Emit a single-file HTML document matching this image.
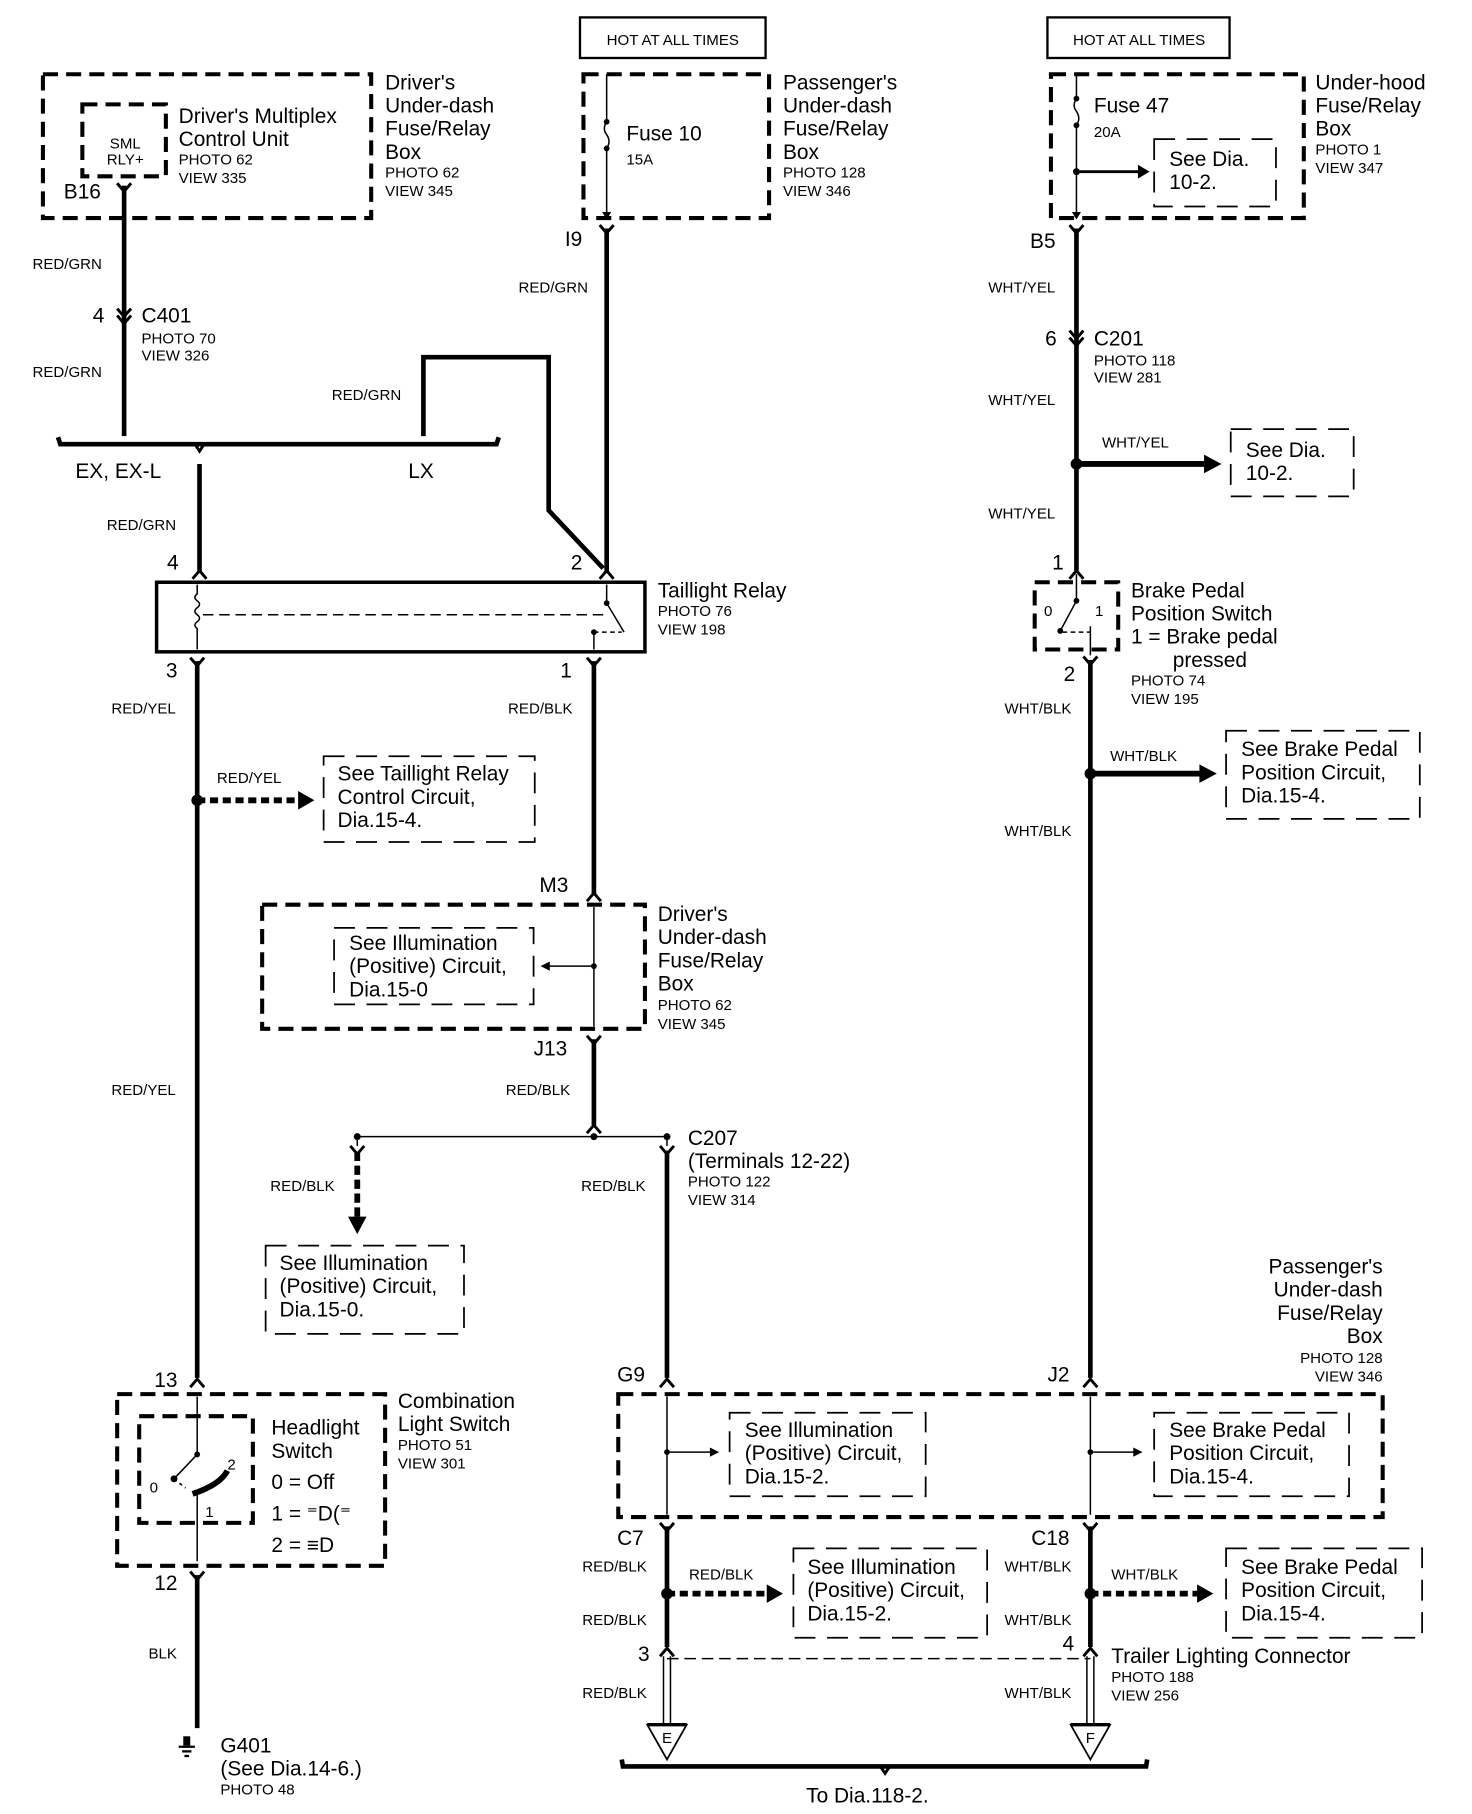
<!DOCTYPE html>
<html><head><meta charset="utf-8"><style>
html,body{margin:0;padding:0;background:#fff}
svg{display:block}
text{font-family:"Liberation Sans",Arial,sans-serif;fill:#000}
.b{font-size:18px}.s{font-size:13px}.w{font-size:13px}
.wire{stroke:#000;stroke-width:4;fill:none}
.thin{stroke:#000;stroke-width:1.3;fill:none}
.db{stroke:#000;stroke-width:3.5;fill:none;stroke-dasharray:13 7}
.dt{stroke:#000;stroke-width:1.5;fill:none;stroke-dasharray:18 10}
.fk{stroke:#000;stroke-width:2.5;fill:none}
</style></head><body>
<svg width="1472" height="1814" viewBox="0 0 1269 1564" preserveAspectRatio="none" xmlns="http://www.w3.org/2000/svg">
<defs>
<marker id="ah" markerWidth="6" markerHeight="6" refX="4" refY="3" orient="auto" markerUnits="strokeWidth"><path d="M0,0 L5,3 L0,6z" fill="#000"/></marker>
<marker id="ah2" markerWidth="10" markerHeight="10" refX="8" refY="5" orient="auto" markerUnits="userSpaceOnUse"><path d="M0,0 L9,5 L0,10z" fill="#000"/></marker>
</defs>
<!-- HOT boxes -->
<rect x="500" y="15" width="160" height="35" fill="none" stroke="#000" stroke-width="2"/>
<text x="580" y="39" class="s" text-anchor="middle" font-size="14">HOT AT ALL TIMES</text>
<rect x="903" y="15" width="157" height="35" fill="none" stroke="#000" stroke-width="2"/>
<text x="982" y="39" class="s" text-anchor="middle" font-size="14">HOT AT ALL TIMES</text>

<!-- Driver's box -->
<rect x="37" y="64" width="283" height="124" class="db"/>
<rect x="71" y="90" width="72" height="62" class="db"/>
<text x="108" y="128" class="s" text-anchor="middle">SML</text>
<text x="108" y="142" class="s" text-anchor="middle">RLY+</text>
<text x="154" y="106" class="b">Driver's Multiplex</text>
<text x="154" y="126" class="b">Control Unit</text>
<text x="154" y="142" class="s">PHOTO 62</text>
<text x="154" y="158" class="s">VIEW 335</text>
<text x="332" y="77" class="b">Driver's</text>
<text x="332" y="97" class="b">Under-dash</text>
<text x="332" y="117" class="b">Fuse/Relay</text>
<text x="332" y="137" class="b">Box</text>
<text x="332" y="153" class="s">PHOTO 62</text>
<text x="332" y="169" class="s">VIEW 345</text>
<text x="55" y="171" class="b">B16</text>
<path class="fk" d="M101,158 L107,165 L113,158"/>
<line x1="107" y1="160" x2="107" y2="376" class="wire"/>
<text x="28" y="232" class="w">RED/GRN</text>
<path class="fk" d="M101,266 L107,273 L113,266 M101,272 L107,279 L113,272"/>
<text x="80" y="278" class="b">4</text>
<text x="122" y="278" class="b">C401</text>
<text x="122" y="296" class="s">PHOTO 70</text>
<text x="122" y="311" class="s">VIEW 326</text>
<text x="28" y="325" class="w">RED/GRN</text>
<!-- bracket -->
<path class="wire" d="M50,377 L52,383 L428,383 L430,377"/>
<path class="fk" d="M168,383 L172,389 L176,383"/>
<text x="65" y="412" class="b">EX, EX-L</text>
<text x="352" y="412" class="b">LX</text>
<path class="wire" d="M365,376 L365,308 L473,308 L473,440 L520,490"/>
<text x="286" y="345" class="w">RED/GRN</text>

<!-- Fuse 10 box -->
<rect x="503" y="64" width="160" height="124" class="db"/>
<path class="thin" d="M523,64 L523,105 M523,128 L523,188" marker-end="url(#ah)"/>
<path class="thin" d="M523,105 q-4,6 0,11 q4,6 0,12"/>
<circle cx="523" cy="105" r="2.5"/><circle cx="523" cy="128" r="2.5"/>
<text x="540" y="121" class="b">Fuse 10</text>
<text x="540" y="142" class="s">15A</text>
<text x="675" y="77" class="b">Passenger's</text>
<text x="675" y="97" class="b">Under-dash</text>
<text x="675" y="117" class="b">Fuse/Relay</text>
<text x="675" y="137" class="b">Box</text>
<text x="675" y="153" class="s">PHOTO 128</text>
<text x="675" y="169" class="s">VIEW 346</text>
<text x="487" y="212" class="b">I9</text>
<path class="fk" d="M517,194 L523,201 L529,194"/>
<line x1="523" y1="197" x2="523" y2="492" class="wire"/>
<text x="447" y="252" class="w">RED/GRN</text>

<!-- Under-hood box -->
<rect x="906" y="64" width="218" height="124" class="db"/>
<path class="thin" d="M928,64 L928,85 M928,108 L928,188" marker-end="url(#ah)"/>
<path class="thin" d="M928,85 q-4,6 0,11 q4,6 0,12"/>
<circle cx="928" cy="85" r="2.5"/><circle cx="928" cy="108" r="2.5"/>
<text x="943" y="97" class="b">Fuse 47</text>
<text x="943" y="118" class="s">20A</text>
<rect x="995" y="120" width="105" height="58" class="dt"/>
<text x="1008" y="143" class="b">See Dia.</text>
<text x="1008" y="163" class="b">10-2.</text>
<circle cx="928" cy="148" r="3"/>
<line x1="928" y1="148" x2="983" y2="148" stroke="#000" stroke-width="2.5"/>
<path d="M981,142 L991,148 L981,154z"/>
<text x="1134" y="77" class="b">Under-hood</text>
<text x="1134" y="97" class="b">Fuse/Relay</text>
<text x="1134" y="117" class="b">Box</text>
<text x="1134" y="133" class="s">PHOTO 1</text>
<text x="1134" y="149" class="s">VIEW 347</text>
<text x="888" y="214" class="b">B5</text>
<path class="fk" d="M922,194 L928,201 L934,194"/>
<line x1="928" y1="197" x2="928" y2="492" class="wire"/>
<text x="852" y="252" class="w">WHT/YEL</text>
<path class="fk" d="M922,285 L928,292 L934,285 M922,291 L928,298 L934,291"/>
<text x="901" y="298" class="b">6</text>
<text x="943" y="298" class="b">C201</text>
<text x="943" y="315" class="s">PHOTO 118</text>
<text x="943" y="330" class="s">VIEW 281</text>
<text x="852" y="349" class="w">WHT/YEL</text>
<circle cx="928" cy="400" r="5"/>
<line x1="928" y1="400" x2="1040" y2="400" stroke="#000" stroke-width="5"/>
<path d="M1038,392 L1053,400 L1038,408z"/>
<text x="950" y="386" class="w">WHT/YEL</text>
<rect x="1061" y="370" width="106" height="58" class="dt"/>
<text x="1074" y="394" class="b">See Dia.</text>
<text x="1074" y="414" class="b">10-2.</text>
<text x="852" y="447" class="w">WHT/YEL</text>
<text x="907" y="491" class="b">1</text>
<path class="fk" d="M922,499 L928,492 L934,499"/>

<!-- Brake switch -->
<rect x="892" y="502" width="72" height="58" class="db"/>
<line x1="928" y1="495" x2="928" y2="518" class="thin"/>
<circle cx="928" cy="518" r="2.5"/>
<line x1="928" y1="518" x2="914" y2="544" class="thin"/>
<circle cx="914" cy="544" r="2.5"/>
<path d="M916,545 L940,545" class="thin" stroke-dasharray="4 3"/>
<line x1="940" y1="540" x2="940" y2="565" class="thin"/>
<text x="900" y="531" class="s">0</text>
<text x="944" y="531" class="s">1</text>
<text x="975" y="515" class="b">Brake Pedal</text>
<text x="975" y="535" class="b">Position Switch</text>
<text x="975" y="555" class="b">1 =  Brake pedal</text>
<text x="1011" y="575" class="b">pressed</text>
<text x="975" y="591" class="s">PHOTO 74</text>
<text x="975" y="607" class="s">VIEW 195</text>
<text x="917" y="587" class="b">2</text>
<path class="fk" d="M934,566 L940,573 L946,566"/>
<line x1="940" y1="569" x2="940" y2="1188" class="wire"/>
<text x="866" y="615" class="w">WHT/BLK</text>
<circle cx="940" cy="667" r="5"/>
<line x1="940" y1="667" x2="1036" y2="667" stroke="#000" stroke-width="5"/>
<path d="M1034,659 L1049,667 L1034,675z"/>
<text x="957" y="656" class="w">WHT/BLK</text>
<rect x="1057" y="630" width="167" height="76" class="dt"/>
<text x="1070" y="652" class="b">See Brake Pedal</text>
<text x="1070" y="672" class="b">Position  Circuit,</text>
<text x="1070" y="692" class="b">Dia.15-4.</text>
<text x="866" y="721" class="w">WHT/BLK</text>

<!-- Taillight relay -->
<text x="144" y="491" class="b">4</text>
<text x="92" y="457" class="w">RED/GRN</text>
<line x1="172" y1="400" x2="172" y2="492" class="wire"/>
<path class="fk" d="M166,499 L172,492 L178,499"/>
<text x="492" y="491" class="b">2</text>
<path class="fk" d="M517,499 L523,492 L529,499"/>
<rect x="135" y="502" width="421" height="60" fill="none" stroke="#000" stroke-width="3"/>
<path class="thin" d="M170,504 L170,512 q-4,3 0,6 q4,3 0,6 q-4,3 0,6 q4,3 0,6 q-4,3 0,6 L170,560"/>
<line x1="175" y1="530" x2="520" y2="530" class="thin" stroke-dasharray="9 5"/>
<line x1="523" y1="504" x2="523" y2="520" class="thin"/>
<circle cx="523" cy="520" r="2.5"/>
<line x1="523" y1="520" x2="538" y2="545" class="thin"/>
<path d="M512,545 L536,545" class="thin" stroke-dasharray="4 3"/>
<circle cx="512" cy="545" r="2.5"/>
<line x1="512" y1="545" x2="512" y2="560" class="thin"/>
<text x="567" y="515" class="b">Taillight Relay</text>
<text x="567" y="531" class="s">PHOTO 76</text>
<text x="567" y="547" class="s">VIEW 198</text>
<text x="143" y="584" class="b">3</text>
<text x="483" y="584" class="b">1</text>
<path class="fk" d="M164,567 L170,574 L176,567"/>
<path class="fk" d="M506,567 L512,574 L518,567"/>
<line x1="170" y1="570" x2="170" y2="1188" class="wire"/>
<line x1="512" y1="570" x2="512" y2="772" class="wire"/>
<text x="96" y="615" class="w">RED/YEL</text>
<text x="438" y="615" class="w">RED/BLK</text>
<circle cx="170" cy="690" r="5"/>
<line x1="170" y1="690" x2="258" y2="690" stroke="#000" stroke-width="5" stroke-dasharray="7 4"/>
<path d="M257,682 L271,690 L257,698z"/>
<text x="187" y="675" class="w">RED/YEL</text>
<rect x="279" y="652" width="182" height="74" class="dt"/>
<text x="291" y="673" class="b">See Taillight Relay</text>
<text x="291" y="693" class="b">Control Circuit,</text>
<text x="291" y="713" class="b">Dia.15-4.</text>

<!-- Driver's under-dash M3/J13 -->
<text x="465" y="769" class="b">M3</text>
<path class="fk" d="M506,777 L512,770 L518,777"/>
<rect x="226" y="780" width="330" height="107" class="db"/>
<line x1="512" y1="782" x2="512" y2="885" class="thin"/>
<circle cx="512" cy="833" r="2.5"/>
<line x1="512" y1="833" x2="473" y2="833" class="thin"/>
<path d="M474,829 L466,833 L474,837z"/>
<rect x="288" y="800" width="172" height="66" class="dt"/>
<text x="301" y="819" class="b">See Illumination</text>
<text x="301" y="839" class="b">(Positive) Circuit,</text>
<text x="301" y="859" class="b">Dia.15-0</text>
<text x="567" y="794" class="b">Driver's</text>
<text x="567" y="814" class="b">Under-dash</text>
<text x="567" y="834" class="b">Fuse/Relay</text>
<text x="567" y="854" class="b">Box</text>
<text x="567" y="871" class="s">PHOTO 62</text>
<text x="567" y="887" class="s">VIEW 345</text>
<text x="460" y="910" class="b">J13</text>
<path class="fk" d="M506,893 L512,900 L518,893"/>
<line x1="512" y1="896" x2="512" y2="970" class="wire"/>
<path class="fk" d="M506,977 L512,970 L518,977"/>
<text x="96" y="944" class="w">RED/YEL</text>
<text x="436" y="944" class="w">RED/BLK</text>
<line x1="308" y1="980" x2="575" y2="980" class="thin"/>
<circle cx="308" cy="980" r="3"/><circle cx="512" cy="980" r="3"/><circle cx="575" cy="980" r="3"/>
<line x1="308" y1="980" x2="308" y2="988" class="thin"/>
<line x1="575" y1="980" x2="575" y2="988" class="thin"/>
<path class="fk" d="M302,988 L308,995 L314,988"/>
<path class="fk" d="M569,988 L575,995 L581,988"/>
<line x1="308" y1="993" x2="308" y2="1050" stroke="#000" stroke-width="5" stroke-dasharray="8 4"/>
<path d="M300,1049 L308,1064 L316,1049z"/>
<text x="233" y="1027" class="w">RED/BLK</text>
<rect x="229" y="1074" width="171" height="76" class="dt"/>
<text x="241" y="1095" class="b">See Illumination</text>
<text x="241" y="1115" class="b">(Positive) Circuit,</text>
<text x="241" y="1135" class="b">Dia.15-0.</text>
<text x="593" y="987" class="b">C207</text>
<text x="593" y="1007" class="b">(Terminals 12-22)</text>
<text x="593" y="1023" class="s">PHOTO 122</text>
<text x="593" y="1039" class="s">VIEW 314</text>
<line x1="575" y1="992" x2="575" y2="1188" class="wire"/>
<text x="501" y="1027" class="w">RED/BLK</text>

<!-- Passenger's big box -->
<text x="1192" y="1098" class="b" text-anchor="end">Passenger's</text>
<text x="1192" y="1118" class="b" text-anchor="end">Under-dash</text>
<text x="1192" y="1138" class="b" text-anchor="end">Fuse/Relay</text>
<text x="1192" y="1158" class="b" text-anchor="end">Box</text>
<text x="1192" y="1175" class="s" text-anchor="end">PHOTO 128</text>
<text x="1192" y="1191" class="s" text-anchor="end">VIEW 346</text>
<text x="532" y="1191" class="b">G9</text>
<text x="903" y="1191" class="b">J2</text>
<path class="fk" d="M569,1196 L575,1189 L581,1196"/>
<path class="fk" d="M934,1196 L940,1189 L946,1196"/>
<rect x="533" y="1202" width="659" height="106" class="db"/>
<line x1="575" y1="1204" x2="575" y2="1306" class="thin"/>
<line x1="940" y1="1204" x2="940" y2="1306" class="thin"/>
<circle cx="575" cy="1252" r="2.5"/><circle cx="940" cy="1252" r="2.5"/>
<line x1="575" y1="1252" x2="613" y2="1252" class="thin"/>
<path d="M612,1248 L620,1252 L612,1256z"/>
<line x1="940" y1="1252" x2="978" y2="1252" class="thin"/>
<path d="M977,1248 L985,1252 L977,1256z"/>
<rect x="629" y="1218" width="169" height="72" class="dt"/>
<text x="642" y="1239" class="b">See Illumination</text>
<text x="642" y="1259" class="b">(Positive) Circuit,</text>
<text x="642" y="1279" class="b">Dia.15-2.</text>
<rect x="995" y="1218" width="168" height="72" class="dt"/>
<text x="1008" y="1239" class="b">See Brake Pedal</text>
<text x="1008" y="1259" class="b">Position  Circuit,</text>
<text x="1008" y="1279" class="b">Dia.15-4.</text>
<text x="532" y="1332" class="b">C7</text>
<text x="889" y="1332" class="b">C18</text>
<path class="fk" d="M569,1313 L575,1320 L581,1313"/>
<path class="fk" d="M934,1313 L940,1320 L946,1313"/>
<line x1="575" y1="1316" x2="575" y2="1420" class="wire"/>
<line x1="940" y1="1316" x2="940" y2="1420" class="wire"/>
<text x="502" y="1355" class="w">RED/BLK</text>
<text x="502" y="1401" class="w">RED/BLK</text>
<text x="866" y="1355" class="w">WHT/BLK</text>
<text x="866" y="1401" class="w">WHT/BLK</text>
<circle cx="575" cy="1374" r="5"/>
<line x1="575" y1="1374" x2="662" y2="1374" stroke="#000" stroke-width="5" stroke-dasharray="7 4"/>
<path d="M661,1366 L675,1374 L661,1382z"/>
<text x="594" y="1362" class="w">RED/BLK</text>
<circle cx="940" cy="1374" r="5"/>
<line x1="940" y1="1374" x2="1033" y2="1374" stroke="#000" stroke-width="5" stroke-dasharray="7 4"/>
<path d="M1032,1366 L1046,1374 L1032,1382z"/>
<text x="958" y="1362" class="w">WHT/BLK</text>
<rect x="684" y="1335" width="167" height="77" class="dt"/>
<text x="696" y="1357" class="b">See Illumination</text>
<text x="696" y="1377" class="b">(Positive) Circuit,</text>
<text x="696" y="1397" class="b">Dia.15-2.</text>
<rect x="1057" y="1335" width="169" height="77" class="dt"/>
<text x="1070" y="1357" class="b">See Brake Pedal</text>
<text x="1070" y="1377" class="b">Position  Circuit,</text>
<text x="1070" y="1397" class="b">Dia.15-4.</text>
<!-- trailer connector -->
<text x="550" y="1432" class="b">3</text>
<text x="916" y="1423" class="b">4</text>
<path class="fk" d="M569,1428 L575,1421 L581,1428"/>
<path class="fk" d="M934,1428 L940,1421 L946,1428"/>
<line x1="575" y1="1430" x2="940" y2="1430" class="thin" stroke-dasharray="10 5"/>
<text x="958" y="1434" class="b">Trailer Lighting Connector</text>
<text x="958" y="1450" class="s">PHOTO 188</text>
<text x="958" y="1466" class="s">VIEW 256</text>
<path d="M572,1428 L572,1486 M578,1428 L578,1486 M937,1428 L937,1486 M943,1428 L943,1486" class="thin"/>
<text x="502" y="1464" class="w">RED/BLK</text>
<text x="866" y="1464" class="w">WHT/BLK</text>
<path d="M558,1487 L592,1487 L575,1517z" fill="#fff" stroke="#000" stroke-width="1.5"/>
<line x1="558" y1="1487" x2="592" y2="1487" stroke="#000" stroke-width="3"/>
<text x="575" y="1503" class="s" text-anchor="middle">E</text>
<path d="M923,1487 L957,1487 L940,1517z" fill="#fff" stroke="#000" stroke-width="1.5"/>
<line x1="923" y1="1487" x2="957" y2="1487" stroke="#000" stroke-width="3"/>
<text x="940" y="1503" class="s" text-anchor="middle">F</text>
<path class="wire" d="M536,1517 L537,1523 L988,1523 L989,1517"/>
<path class="fk" d="M759,1523 L763,1529 L767,1523"/>
<text x="695" y="1554" class="b">To Dia.118-2.</text>

<!-- Combination switch -->
<text x="133" y="1196" class="b">13</text>
<path class="fk" d="M164,1196 L170,1189 L176,1196"/>
<rect x="101" y="1202" width="231" height="148" class="db"/>
<rect x="120" y="1221" width="98" height="92" class="db"/>
<line x1="170" y1="1204" x2="170" y2="1254" class="thin"/>
<circle cx="170" cy="1254" r="2.5"/>
<line x1="170" y1="1254" x2="150" y2="1275" class="thin"/>
<circle cx="150" cy="1275" r="3"/>
<path d="M150,1275 L160,1283" class="thin" stroke-dasharray="3 3"/>
<path d="M166,1288 Q190,1280 196,1268" stroke="#000" stroke-width="5" fill="none"/>
<line x1="170" y1="1286" x2="170" y2="1346" class="thin"/>
<text x="129" y="1287" class="s">0</text>
<text x="196" y="1267" class="s">2</text>
<text x="177" y="1308" class="s">1</text>
<text x="234" y="1237" class="b">Headlight</text>
<text x="234" y="1257" class="b">Switch</text>
<text x="234" y="1284" class="b">0 =  Off</text>
<text x="234" y="1311" class="b">1 = ⁼D(⁼</text>
<text x="234" y="1338" class="b">2 =  ≡D</text>
<text x="343" y="1214" class="b">Combination</text>
<text x="343" y="1234" class="b">Light Switch</text>
<text x="343" y="1250" class="s">PHOTO 51</text>
<text x="343" y="1266" class="s">VIEW 301</text>
<text x="133" y="1371" class="b">12</text>
<path class="fk" d="M164,1355 L170,1362 L176,1355"/>
<line x1="170" y1="1358" x2="170" y2="1490" class="wire"/>
<text x="128" y="1430" class="w">BLK</text>
<rect x="158" y="1497" width="6" height="8"/>
<line x1="154" y1="1506" x2="168" y2="1506" stroke="#000" stroke-width="2"/>
<line x1="157" y1="1510" x2="165" y2="1510" stroke="#000" stroke-width="2"/>
<line x1="159" y1="1514" x2="163" y2="1514" stroke="#000" stroke-width="2"/>
<text x="190" y="1511" class="b">G401</text>
<text x="190" y="1531" class="b">(See Dia.14-6.)</text>
<text x="190" y="1547" class="s">PHOTO 48</text>
</svg>
</body></html>
